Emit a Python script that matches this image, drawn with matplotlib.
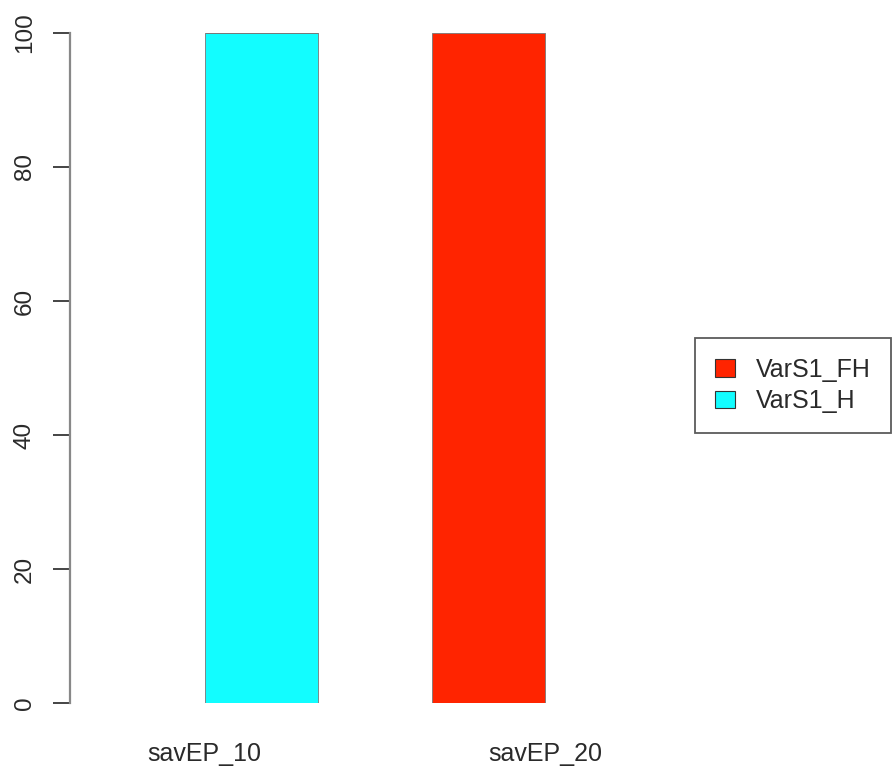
import matplotlib
matplotlib.use("Agg")
import matplotlib.pyplot as plt
from matplotlib.patches import Patch

plt.rcParams['font.family'] = ['Liberation Sans', 'DejaVu Sans']

# data
groups = ['savEP_10', 'savEP_20']
series = ['VarS1_H', 'VarS1_FH']
valori = {
    'VarS1_H':  [100, 0],
    'VarS1_FH': [0, 100],
}
colori = {'VarS1_H': '#12fdff', 'VarS1_FH': '#ff2400'}
yticks = [0, 20, 40, 60, 80, 100]

fig = plt.figure(figsize=(8.93, 7.75), dpi=100)
ax = fig.add_axes([70 / 893, 72 / 775, 610 / 893, 670 / 775])

pos = [1, 2]
base = [0, 0]
for s in series:
    ax.bar(pos, valori[s], width=0.5, bottom=base, color=colori[s],
           edgecolor='#777777', linewidth=0.6)
    base = [b + v for b, v in zip(base, valori[s])]

ax.set_xlim(0.156, 2.844)
ax.set_ylim(0, 100)

for sp in ['top', 'right', 'bottom']:
    ax.spines[sp].set_visible(False)
ax.spines['left'].set_color('#888888')
ax.spines['left'].set_linewidth(1.6)

ax.set_yticks(yticks)
ax.set_yticklabels([str(t) for t in yticks], rotation=90, va='center',
                   fontsize=17.5, color='#2a2a2a')
ax.tick_params(axis='y', length=12.2, width=1.4, color='#444444', pad=12.5)

# etichette spostate come nel grafico originale
ax.set_xticks([0.747, 2.249])
ax.set_xticklabels(groups, fontsize=18, color='#2a2a2a')
ax.tick_params(axis='x', length=0, pad=28)

handles = [Patch(facecolor=colori[s], edgecolor='#333333', linewidth=0.8)
           for s in ['VarS1_FH', 'VarS1_H']]
leg = fig.legend(handles, ['VarS1_FH', 'VarS1_H'], loc='center left',
                 bbox_to_anchor=(695 / 893, (775 - 385.5) / 775),
                 fontsize=18, frameon=True, fancybox=False,
                 handlelength=0.8, handleheight=0.7, handletextpad=0.85,
                 labelspacing=0.3, borderpad=0.8, borderaxespad=0)
leg.get_frame().set_edgecolor('#333333')
leg.get_frame().set_linewidth(1.3)
for t in leg.get_texts():
    t.set_color('#2a2a2a')

plt.savefig("out.png", dpi=100)
